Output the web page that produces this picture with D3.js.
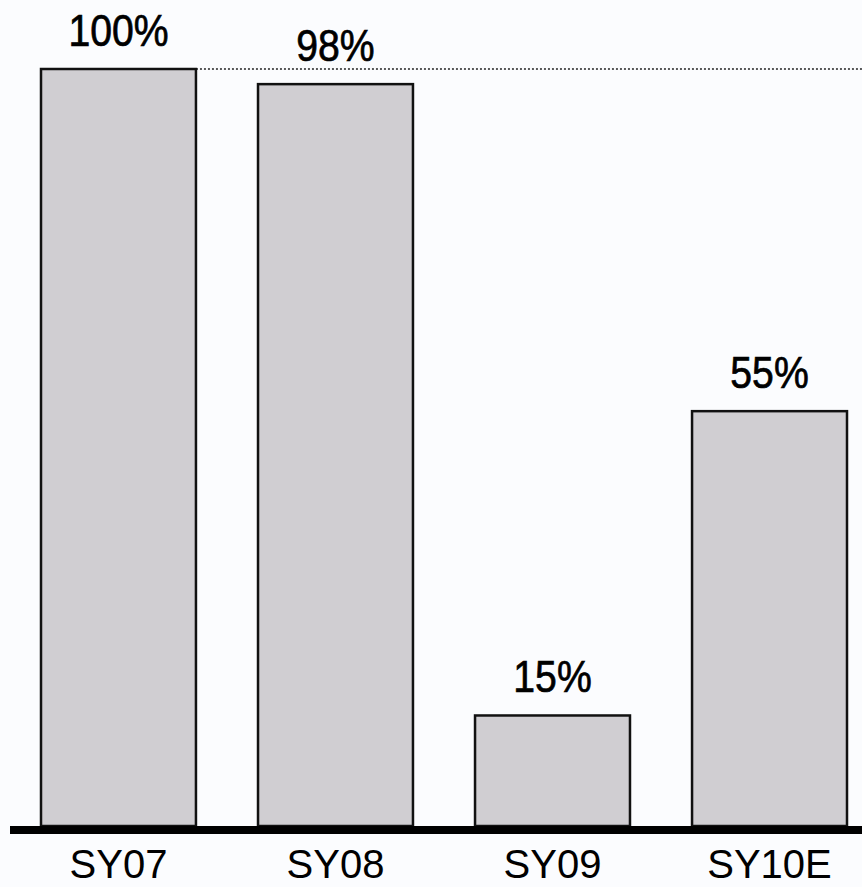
<!DOCTYPE html>
<html>
<head>
<meta charset="utf-8">
<script src="https://cdn.jsdelivr.net/npm/d3@7"></script>
<style>
  body { margin: 0; background: #fbfcfe; }
  svg { display: block; }
</style>
</head>
<body>
<svg id="chart"></svg>
<script>
const categories = ["SY07", "SY08", "SY09", "SY10E"]
const values = [100, 98, 14.6, 54.8]
const valueLabels = ["100%", "98%", "15%", "55%"]

const width = 862
const height = 887

const svg = d3.select("#chart")
    .attr("width", width)
    .attr("height", height)
    .style("background", "#fbfcfe")

let x = d3.scaleBand()
    .domain(categories)
    .range([41, 847])
    .paddingInner(0.286)
    .paddingOuter(0)

let y = d3.scaleLinear()
    .domain([0, 100])
    .range([826, 69])

// dotted reference line at the 100% level
svg.append("line")
    .attr("x1", x(categories[0]) + x.bandwidth())
    .attr("x2", width)
    .attr("y1", y(100))
    .attr("y2", y(100))
    .attr("stroke", "#222")
    .attr("stroke-width", 1.5)
    .attr("stroke-dasharray", "2,2")

svg.selectAll(".bar")
    .data(values)
    .enter().append("rect")
    .attr("class", "bar")
    .attr("x", (d, i) => x(categories[i]))
    .attr("y", d => y(d))
    .attr("width", x.bandwidth())
    .attr("height", d => y(0) - y(d))
    .attr("fill", "#d0ced2")
    .attr("stroke", "#111")
    .attr("stroke-width", 2.5)

// value labels are a bit taller and heavier than the axis labels
svg.selectAll(".val")
    .data(values)
    .enter().append("text")
    .attr("class", "val")
    .attr("transform", (d, i) => `translate(${x(categories[i]) + x.bandwidth() / 2}, ${y(d) - 23}) scale(0.89, 1)`)
    .attr("text-anchor", "middle")
    .style("font", "44px 'Liberation Sans', Arial, sans-serif")
    .style("fill", "#000")
    .style("stroke", "#000")
    .style("stroke-width", 0.7)
    .text((d, i) => valueLabels[i])

// x axis: thick baseline, no ticks
let x_axis = d3.axisBottom(x).tickSize(0).tickPadding(24)

const axisG = svg.append("g")
    .attr("transform", `translate(0, ${y(0)})`)
    .call(x_axis)

axisG.select(".domain").remove()
axisG.selectAll("text")
    .style("font", "40px 'Liberation Sans', Arial, sans-serif")
    .style("fill", "#000")
    .attr("dy", "0.71em")

svg.append("rect")
    .attr("x", 10)
    .attr("y", y(0))
    .attr("width", width - 10)
    .attr("height", 8)
    .attr("fill", "#000")
</script>
</body>
</html>
